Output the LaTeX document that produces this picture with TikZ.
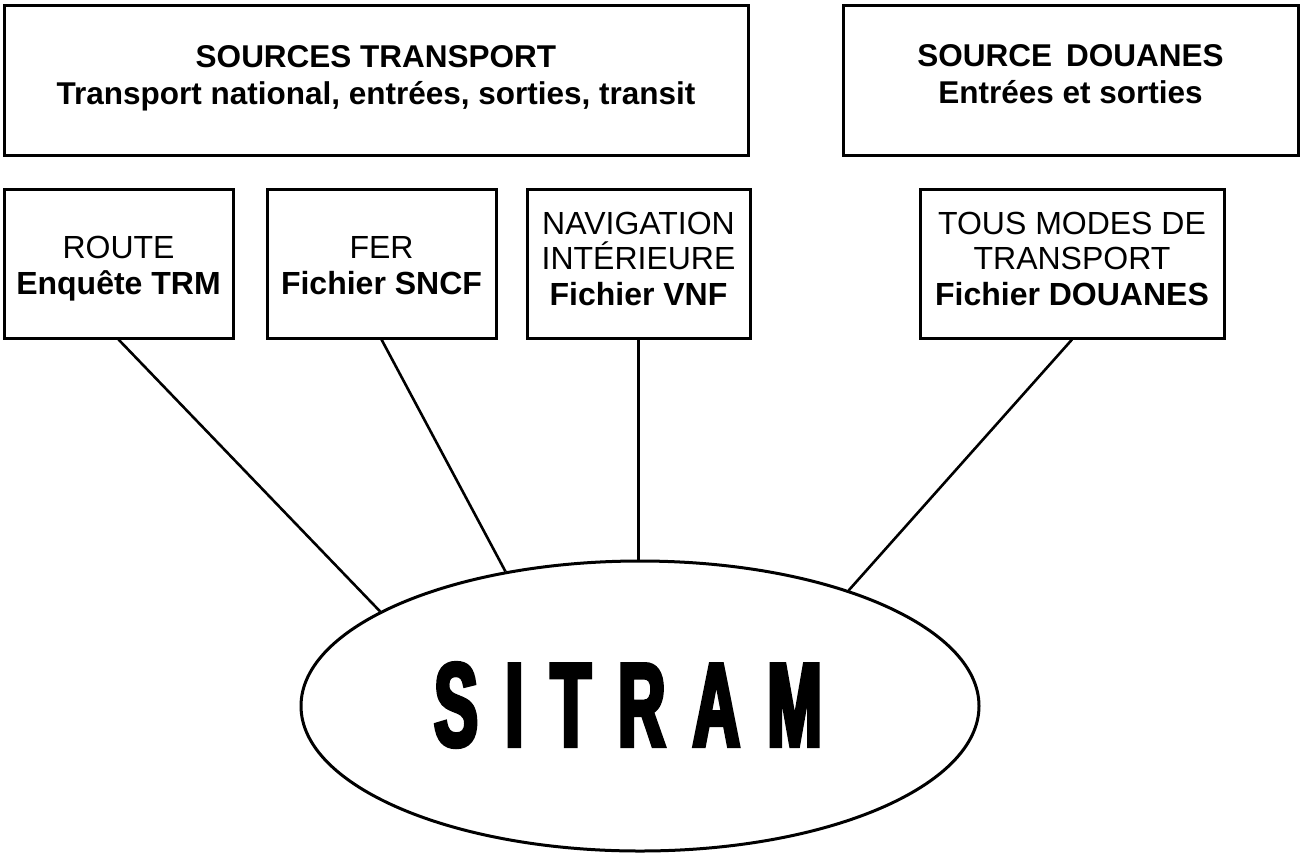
\documentclass[tikz,border=0pt]{standalone}
\usepackage{fontspec}
\setmainfont{Liberation Sans}
\newfontfamily\sitramfont[FakeStretch=0.55,FakeBold=3.5,LetterSpace=23]{Liberation Sans}
\usetikzlibrary{shapes.geometric}
\begin{document}
\begin{tikzpicture}[x=1pt,y=-1pt,
  box/.style={draw,line width=3pt,inner sep=0pt},
  link/.style={line width=2.6pt},
  hd/.style={font=\fontsize{31.5}{35}\selectfont\bfseries,anchor=base,inner sep=0pt},
  reg/.style={font=\fontsize{32}{35}\selectfont,anchor=base,inner sep=0pt},
  bld/.style={font=\fontsize{32}{35}\selectfont\bfseries,anchor=base,inner sep=0pt}]
\useasboundingbox (0,0) rectangle (1301,855);
\fill[white] (0,0) rectangle (1301,855);

% top boxes
\node[box,minimum width=744,minimum height=150] (srcT) at (376,80) {};
\node[box,minimum width=455,minimum height=150] (srcD) at (1070.5,80) {};
\node[hd] (srcT1) at (376,67) {SOURCES TRANSPORT};
\node[hd] (srcT2) at (376,104) {Transport national, entrées, sorties, transit};
\node[hd] (srcD1) at (1070.5,66) {SOURCE\hspace{0.45em}DOUANES};
\node[hd] (srcD2) at (1070.5,103) {Entrées et sorties};

% mode boxes
\node[box,minimum width=229,minimum height=149] (route) at (118.5,263.5) {};
\node[box,minimum width=229,minimum height=149] (fer) at (381.5,263.5) {};
\node[box,minimum width=223,minimum height=149] (nav) at (638.5,263.5) {};
\node[box,minimum width=304,minimum height=149] (tous) at (1072,263.5) {};

\node[reg] (route1) at (118.5,258) {ROUTE};
\node[bld] (route2) at (118.5,294) {Enquête TRM};
\node[reg] (fer1) at (381.5,258) {FER};
\node[bld] (fer2) at (381.5,294) {Fichier SNCF};
\node[reg] (nav1) at (638.5,234) {NAVIGATION};
\node[reg] (nav2) at (638.5,269) {INTÉRIEURE};
\node[bld] (nav3) at (638.5,305) {Fichier VNF};
\node[reg] (tous1) at (1072,234) {TOUS MODES DE};
\node[reg] (tous2) at (1072,269) {TRANSPORT};
\node[bld] (tous3) at (1072,305) {Fichier DOUANES};

% SITRAM
\node[draw,line width=3pt,ellipse,minimum width=678,minimum height=290,inner sep=0pt] (sitram) at (640,706) {};
\node[anchor=base west,inner sep=0pt,font=\sitramfont\bfseries\fontsize{119}{120}\selectfont] (sitramtxt) at (434,746) {SITRAM};

% connectors
\draw[link] (route.south) -- (sitram.160.2);
\draw[link] (fer.south) -- (sitram.135.6);
\draw[link] (nav.south) -- (nav.south |- sitram.north);
\draw[link] (tous.south) -- (sitram.29.2);
\end{tikzpicture}
\end{document}
